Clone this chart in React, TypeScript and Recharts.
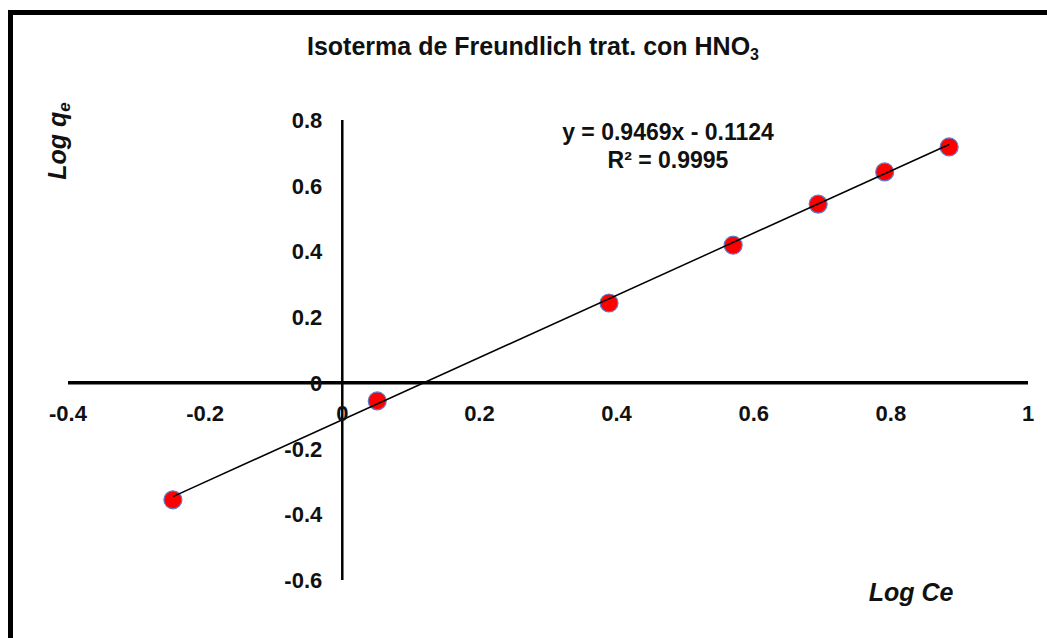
import { ScatterChart, Scatter, XAxis, YAxis, ReferenceLine } from 'recharts';

const logCe = [-0.247, 0.051, 0.389, 0.57, 0.694, 0.791, 0.885];
const logQe = [-0.356, -0.055, 0.243, 0.419, 0.544, 0.642, 0.718];
const xTicks = [-0.4, -0.2, 0, 0.2, 0.4, 0.6, 0.8, 1];
const yTicks = [-0.6, -0.4, -0.2, 0, 0.2, 0.4, 0.6, 0.8];
const slope = 0.9469;
const intercept = -0.1124;
const r2 = 0.9995;

const points = logCe.map((x, i) => ({ x, y: logQe[i] }));
const xFirst = logCe[0];
const xLast = logCe[logCe.length - 1];
const trend = [
  { x: xFirst, y: slope * xFirst + intercept },
  { x: xLast, y: slope * xLast + intercept },
];

const W = 1047;
const H = 638;
const margin = { top: 120, right: 19, bottom: 57, left: 67 };
const xDomain = [-0.4, 1];
const yDomain = [-0.6, 0.8];
const plotLeft = margin.left + 1;
const plotW = W - plotLeft - margin.right;
const plotH = H - margin.top - margin.bottom - 1;
// pixel position of the crossing axes (x=0, y=0)
const zeroX = plotLeft + ((0 - xDomain[0]) / (xDomain[1] - xDomain[0])) * plotW;
const zeroY = margin.top + ((yDomain[1] - 0) / (yDomain[1] - yDomain[0])) * plotH;

const font = '"Liberation Sans", Arial, sans-serif';

const renderXTick = ({ x, payload }: any) => (
  <text x={x} y={zeroY + 38} textAnchor="middle" fontFamily={font} fontSize={22} fontWeight="bold" fill="#111">
    {String(payload.value)}
  </text>
);

const renderYTick = ({ y, payload }: any) => (
  <text x={zeroX - 20} y={y + 8} textAnchor="end" fontFamily={font} fontSize={22} fontWeight="bold" fill="#111">
    {String(payload.value)}
  </text>
);

export default function App() {
  return (
    <div style={{ position: 'absolute', left: 0, top: 0, width: W, height: H, background: '#fff' }}>
      <div style={{ position: 'absolute', left: 8, top: 10, width: W, height: H, borderLeft: '5px solid #000', borderTop: '5px solid #000' }} />
      <ScatterChart width={W} height={H} margin={margin} style={{ position: 'absolute', left: 0, top: 0 }}>
        <XAxis type="number" dataKey="x" domain={xDomain} ticks={xTicks} height={1} axisLine={false} tickLine={false} tick={renderXTick} interval={0} />
        <YAxis type="number" dataKey="y" domain={yDomain} ticks={yTicks} width={1} axisLine={false} tickLine={false} tick={renderYTick} interval={0} />
        <ReferenceLine x={0} stroke="#000" strokeWidth={2.5} />
        <ReferenceLine y={0} stroke="#000" strokeWidth={3.5} />
        <Scatter data={points} fill="#ff0000" shape={(p: any) => <circle cx={p.cx} cy={p.cy} r={9} fill="#ff0000" stroke="#5b7fd0" strokeWidth={1.2} />} isAnimationActive={false} />
        <Scatter data={trend} line={{ stroke: '#000', strokeWidth: 1.5 }} shape={() => null} isAnimationActive={false} />
        <text x={533} y={55} textAnchor="middle" fontFamily={font} fontSize={25} fontWeight="bold" fill="#111">
          Isoterma de Freundlich trat. con HNO<tspan fontSize={16} dy={5}>3</tspan>
        </text>
        <text x={668} y={140} textAnchor="middle" fontFamily={font} fontSize={23} fontWeight="bold" fill="#111">
          {`y = ${slope}x - ${Math.abs(intercept)}`}
        </text>
        <text x={668} y={168} textAnchor="middle" fontFamily={font} fontSize={23} fontWeight="bold" fill="#111">
          {`R² = ${r2}`}
        </text>
        <text x={911} y={601} textAnchor="middle" fontFamily={font} fontSize={25} fontWeight="bold" fontStyle="italic" fill="#111">
          Log Ce
        </text>
        <text transform="translate(66,141) rotate(-90)" textAnchor="middle" fontFamily={font} fontSize={25} fontWeight="bold" fontStyle="italic" fill="#111">
          Log q<tspan fontSize={17} dy={4}>e</tspan>
        </text>
      </ScatterChart>
    </div>
  );
}
